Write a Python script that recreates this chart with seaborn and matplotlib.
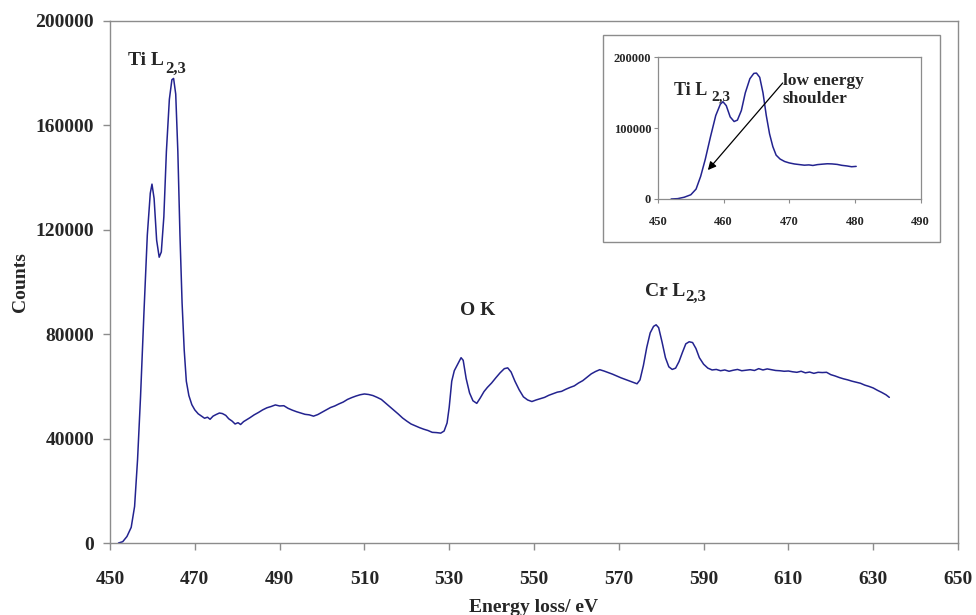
import numpy as np
import pandas as pd
import matplotlib
matplotlib.use("Agg")
import matplotlib.pyplot as plt
from matplotlib.patches import Rectangle
import seaborn as sns

# ---- data ----
energy = [452.0, 453.0, 454.0, 455.0, 455.8, 456.5, 457.2, 458.0, 458.8, 459.5,
          459.9, 460.4, 461.0, 461.6, 462.1, 462.7, 463.3, 464.0, 464.6, 465.0,
          465.5, 466.0, 466.5, 467.0, 467.5, 468.0, 468.6, 469.3, 470.0, 470.8,
          471.5, 472.3, 473.0, 473.6, 474.3, 475.0, 475.8, 476.5, 477.3, 478.0,
          478.8, 479.5, 480.2, 480.8, 481.5, 482.3, 483.0, 484.0, 485.0, 486.0,
          487.0, 488.0, 489.0, 490.0, 491.0, 492.0, 493.0, 494.0, 495.0, 496.0,
          497.0, 498.0, 499.0, 500.0, 501.0, 502.0, 503.0, 504.0, 505.0, 506.0,
          507.0, 508.0, 509.0, 510.0, 511.0, 512.0, 513.0, 514.0, 515.0, 516.0,
          517.0, 518.0, 519.0, 520.0, 521.0, 522.0, 523.0, 524.0, 525.0, 526.0,
          527.0, 528.0, 528.8, 529.5, 530.0, 530.6, 531.2, 532.0, 532.8, 533.3,
          534.0, 534.8, 535.6, 536.5, 537.3, 538.2, 539.0, 540.0, 541.0, 542.0,
          543.0, 543.8, 544.6, 545.5, 546.5, 547.5, 548.5, 549.5, 550.5, 551.5,
          552.5, 553.5, 554.5, 555.5, 556.5, 557.5, 558.5, 559.5, 560.5, 561.5,
          562.5, 563.5, 564.5, 565.5, 566.5, 567.5, 568.5, 569.5, 570.5, 571.5,
          572.5, 573.5, 574.3, 575.0, 575.8, 576.6, 577.4, 578.2, 578.8, 579.4,
          580.2, 581.0, 581.8, 582.6, 583.4, 584.2, 585.0, 585.8, 586.6, 587.4,
          588.2, 589.0, 590.0, 591.0, 592.0, 593.0, 594.0, 595.0, 596.0, 597.0,
          598.0, 599.0, 600.0, 601.0, 602.0, 603.0, 604.0, 605.0, 606.0, 607.0,
          608.0, 609.0, 610.0, 611.0, 612.0, 613.0, 614.0, 615.0, 616.0, 617.0,
          618.0, 619.0, 620.0, 621.0, 622.0, 623.0, 624.0, 625.0, 626.0, 627.0,
          628.0, 629.0, 630.0, 631.0, 632.0, 633.0, 633.8]
counts = [0, 500, 2500, 6000, 14000, 32000, 56000, 88000, 118000, 134000,
          137500, 132000, 116000, 109500, 111500, 125000, 150000, 170000, 177500, 178000,
          172000, 150000, 118000, 92000, 74000, 62000, 56500, 53000, 51000, 49500,
          48700, 47800, 48200, 47400, 48600, 49200, 49800, 49600, 48900, 47600,
          46700, 45600, 46100, 45400, 46500, 47300, 48000, 49100, 50000, 51000,
          51800, 52300, 52900, 52500, 52600, 51600, 50900, 50300, 49800, 49300,
          49100, 48600, 49200, 50100, 51000, 51900, 52500, 53300, 54000, 55000,
          55700, 56300, 56800, 57100, 56900, 56500, 55800, 55000, 53600, 52200,
          50800, 49400, 47900, 46700, 45600, 44900, 44200, 43600, 43100, 42400,
          42300, 42100, 42900, 46000, 52000, 62000, 66000, 68500, 71000, 70000,
          63000, 57500, 54500, 53500, 55500, 58000, 59600, 61300, 63300, 65200,
          66800, 67100, 65500, 62000, 58700, 56000, 54800, 54200, 54800, 55300,
          55800, 56600, 57200, 57800, 58100, 58900, 59600, 60200, 61300, 62200,
          63500, 64800, 65700, 66400, 65900, 65300, 64700, 64000, 63300, 62700,
          62100, 61500, 61000, 62500, 68000, 75000, 80500, 83000, 83600, 82500,
          77000, 71000, 67500, 66500, 67000, 69500, 73000, 76300, 77100, 76800,
          74500, 71000, 68500, 67000, 66300, 66500, 66000, 66300, 65800, 66200,
          66500, 66000, 66200, 66400, 66100, 66800, 66300, 66700, 66400, 66100,
          66000, 65800, 65900, 65600, 65400, 65800, 65200, 65500, 65000, 65400,
          65300, 65400, 64500, 64000, 63400, 62900, 62500, 62000, 61600, 61200,
          60500, 60000, 59400, 58500, 57700, 56800, 55800]

main_xticks = [450, 470, 490, 510, 530, 550, 570, 590, 610, 630, 650]
main_yticks = [0, 40000, 80000, 120000, 160000, 200000]
inset_xticks = [450, 460, 470, 480, 490]
inset_yticks = [0, 100000, 200000]
inset_max_energy = 480.2

df = pd.DataFrame({"Energy": energy, "Counts": counts})
df_in = df[df["Energy"] <= inset_max_energy]

# ---- style ----
sns.set_style("white")
plt.rcParams["font.family"] = ["Liberation Serif", "DejaVu Serif"]
plt.rcParams["font.weight"] = "bold"

LINE = "#23238f"
GRAY = "#8c8c8c"

fig = plt.figure(figsize=(9.76, 6.15), dpi=100)
W, H = 976, 615

def fig_rect(x0, y0, x1, y1):
    return [x0 / W, 1 - y1 / H, (x1 - x0) / W, (y1 - y0) / H]

ax = fig.add_axes(fig_rect(110, 21, 958, 543))
sns.lineplot(data=df, x="Energy", y="Counts", ax=ax, color=LINE, lw=1.1,
             estimator=None, sort=False)
ax.set_xlim(450, 650)
ax.set_ylim(0, 200000)
ax.set_xticks(main_xticks)
ax.set_yticks(main_yticks)
ax.set_xticklabels([str(v) for v in main_xticks], fontsize=14, fontweight="bold")
ax.set_yticklabels([str(v) for v in main_yticks], fontsize=14, fontweight="bold")
ax.tick_params(axis="x", direction="out", length=5, width=1, color=GRAY, pad=15)
ax.tick_params(axis="y", direction="out", length=5, width=1, color=GRAY, pad=6.5)
ax.tick_params(bottom=True, left=True)
for s in ax.spines.values():
    s.set_color(GRAY)
    s.set_linewidth(1.0)
    s.set_visible(True)
ax.set_xlabel("Energy loss/ eV", fontsize=14, fontweight="bold")
ax.set_ylabel("Counts", fontsize=14, fontweight="bold")
ax.xaxis.set_label_coords(0.5, -(607 - 543) / 522)
ax.xaxis.label.set_verticalalignment("center")
ax.yaxis.set_label_coords((20 - 110) / 848, 0.5)
ax.yaxis.label.set_verticalalignment("center")

# annotations main
ax.text(454.2, 184700, "Ti L", fontsize=14, fontweight="bold", va="center", ha="left")
ax.text(463.0, 181500, "2,3", fontsize=12, fontweight="bold", va="center", ha="left")
ax.text(532.5, 89000, "O K", fontsize=14, fontweight="bold", va="center", ha="left")
ax.text(576.2, 96300, "Cr L", fontsize=14, fontweight="bold", va="center", ha="left")
ax.text(585.6, 94200, "2,3", fontsize=12, fontweight="bold", va="center", ha="left")

# inset outer box
fig.patches.append(Rectangle((603 / W, 1 - 242 / H), (940 - 603) / W, (242 - 35) / H,
                             transform=fig.transFigure, fill=True, facecolor="white",
                             edgecolor=GRAY, lw=1.0, zorder=2))

ins = fig.add_axes(fig_rect(658, 57.5, 920.5, 199))
ins.set_zorder(3)
sns.lineplot(data=df_in, x="Energy", y="Counts", ax=ins, color=LINE, lw=1.1,
             estimator=None, sort=False)
ins.set_xlim(450, 490)
ins.set_ylim(0, 200000)
ins.set_xticks(inset_xticks)
ins.set_yticks(inset_yticks)
ins.set_xticklabels([str(v) for v in inset_xticks], fontsize=9, fontweight="bold")
ins.set_yticklabels([str(v) for v in inset_yticks], fontsize=9, fontweight="bold")
ins.tick_params(axis="x", direction="out", length=3, width=0.8, color=GRAY, pad=9)
ins.tick_params(axis="y", direction="out", length=3, width=0.8, color=GRAY, pad=2)
ins.tick_params(bottom=True, left=True)
for s in ins.spines.values():
    s.set_color(GRAY)
    s.set_linewidth(0.9)
    s.set_visible(True)
ins.set_xlabel("")
ins.set_ylabel("")
ins.text(452.4, 153800, "Ti L", fontsize=13, fontweight="bold", va="center", ha="left")
ins.text(458.1, 144000, "2,3", fontsize=11, fontweight="bold", va="center", ha="left")
ins.text(469.0, 153800, "low energy\nshoulder", fontsize=12.5, fontweight="bold",
         va="center", ha="left", linespacing=1.2)
ins.annotate("", xy=(457.6, 40900), xytext=(469.0, 164000),
             arrowprops=dict(arrowstyle="-|>", color="black", lw=0.9,
                             mutation_scale=12, shrinkA=0, shrinkB=0))

fig.savefig("out.png", dpi=100)
